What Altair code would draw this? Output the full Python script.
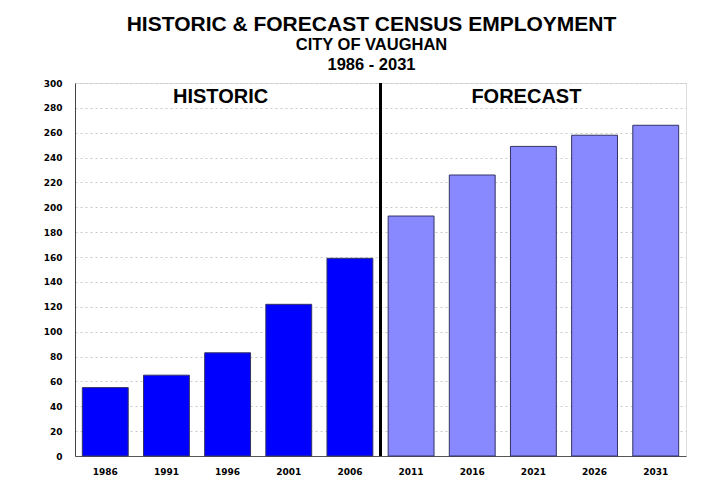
import altair as alt
import pandas as pd

years = ["1986", "1991", "1996", "2001", "2006", "2011", "2016", "2021", "2026", "2031"]
employment = [55, 65, 83, 122, 159, 193, 226, 249, 258, 266]
period = ["Historic"] * 5 + ["Forecast"] * 5
y_ticks = list(range(0, 301, 20))

df = pd.DataFrame({"year": years, "value": employment, "period": period})

labels_df = pd.DataFrame({"year": ["1996", "2021"], "value": [289, 289], "label": ["HISTORIC", "FORECAST"]})
divider_df = pd.DataFrame({"year": ["2006"]})

W, H = 611, 373
PAD_INNER = 0.25

y_scale = alt.Scale(domain=[0, 300], nice=False)
x_scale = alt.Scale(paddingInner=PAD_INNER, paddingOuter=0.12)

x_axis = alt.Axis(labelAngle=0, labelFont="DejaVu Sans", labelFontWeight="bold",
                  labelFontSize=9, labelColor="black", ticks=False, labelPadding=11,
                  domainColor="#555555", grid=False)
y_axis = alt.Axis(values=y_ticks, labelFont="DejaVu Sans",
                  labelFontWeight="bold", labelFontSize=9, labelColor="black",
                  labelOverlap=False,
                  ticks=False, labelPadding=13, domainColor="#444444",
                  grid=True, gridColor="#c8c8c8", gridDash=[2, 3])

bars = alt.Chart(df).mark_bar(stroke="#333366", strokeWidth=1).encode(
    x=alt.X("year:N", sort=years, title=None, scale=x_scale, axis=x_axis),
    y=alt.Y("value:Q", title=None, scale=y_scale, axis=y_axis),
    color=alt.Color("period:N", scale=alt.Scale(domain=["Historic", "Forecast"],
                                               range=["#0000ff", "#8888ff"]), legend=None),
)

step = W / (10 - PAD_INNER + 2 * 0.12)
divider = alt.Chart(divider_df).mark_rule(color="black", strokeWidth=3,
                                          xOffset=step * PAD_INNER / 2).encode(
    x=alt.X("year:N", sort=years, bandPosition=1, title=None, scale=x_scale, axis=x_axis),
    y=alt.YDatum(0, scale=y_scale, axis=y_axis, title=None),
    y2=alt.datum(300),
)

texts = alt.Chart(labels_df).mark_text(font="Liberation Sans", fontWeight="bold",
                                       fontSize=20, color="black", dx=-7).encode(
    x=alt.X("year:N", sort=years, title=None, scale=x_scale, axis=x_axis),
    y=alt.Y("value:Q", title=None, scale=y_scale, axis=y_axis),
    text="label:N",
)

chart = alt.layer(bars, divider, texts).properties(
    width=W, height=H,
    title=alt.TitleParams(
        text="HISTORIC & FORECAST CENSUS EMPLOYMENT",
        subtitle=["CITY OF VAUGHAN", "1986 - 2031"],
        font="Liberation Sans", fontSize=21, fontWeight="bold", color="black",
        subtitleFont="Liberation Sans", subtitleFontSize=16.5, subtitleFontWeight="bold",
        subtitleColor="black", subtitleLineHeight=20, subtitlePadding=2,
        anchor="middle", dx=-9, offset=5.5,
    ),
    autosize=alt.AutoSizeParams(type="none"),
    padding={"left": 67, "top": 75, "right": 10, "bottom": 40},
).configure_view(stroke="#999999", strokeWidth=1).configure(background="white")

chart.save("out.html", embed_options={"renderer": "svg", "actions": False})
